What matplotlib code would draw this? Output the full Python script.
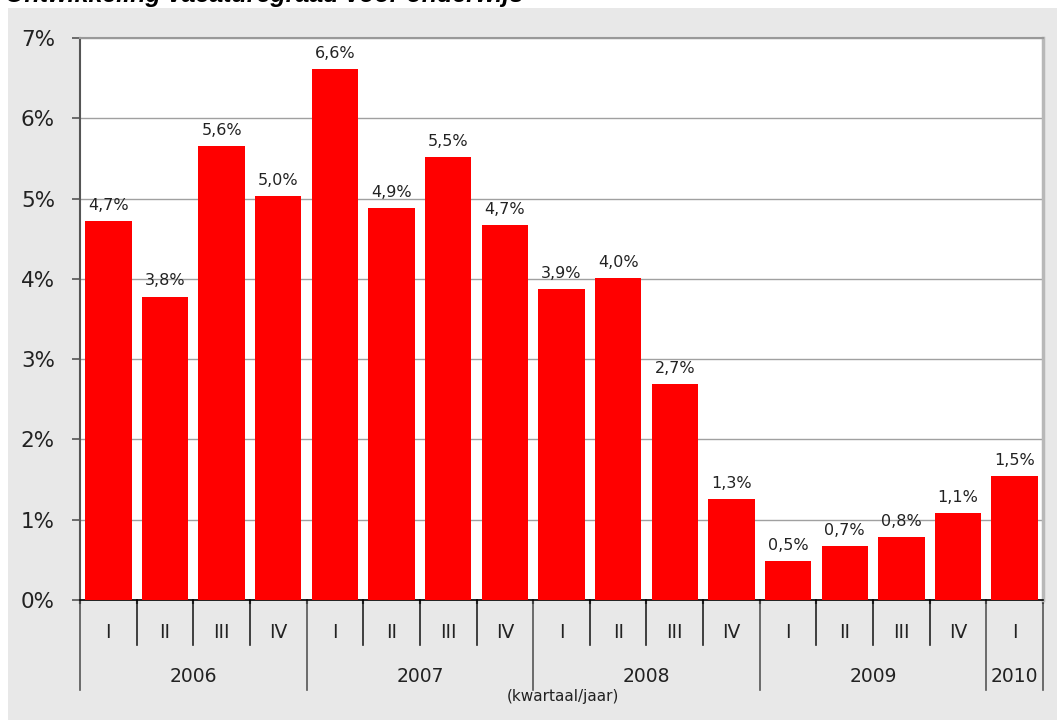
import matplotlib.pyplot as plt
from matplotlib.patches import Rectangle
import matplotlib.transforms as mtransforms

# data
quarters = ["I", "II", "III", "IV", "I", "II", "III", "IV", "I", "II", "III", "IV",
            "I", "II", "III", "IV", "I"]
years = ["2006", "2007", "2008", "2009", "2010"]
quarters_per_year = [4, 4, 4, 4, 1]
values = [4.72, 3.78, 5.65, 5.03, 6.61, 4.88, 5.52, 4.67, 3.87, 4.01, 2.69,
          1.26, 0.48, 0.67, 0.79, 1.08, 1.54]
labels = ["4,7%", "3,8%", "5,6%", "5,0%", "6,6%", "4,9%", "5,5%", "4,7%", "3,9%",
          "4,0%", "2,7%", "1,3%", "0,5%", "0,7%", "0,8%", "1,1%", "1,5%"]
yticks = [0, 1, 2, 3, 4, 5, 6, 7]

plt.rcParams["font.family"] = ["DejaVu Sans"]

W, H = 1057, 720
fig = plt.figure(figsize=(W / 100, H / 100), dpi=100, facecolor="white")
fig.patches.append(Rectangle((8 / W, 0), 1 - 8 / W, (H - 8) / H,
                             transform=fig.transFigure, facecolor="#e8e8e8",
                             edgecolor="none", zorder=-10))
# title sits partly above the top edge, as in the reference
fig.text(5 / W, 1 - 2 / H, "Ontwikkeling vacaturegraad voor onderwijs",
         fontsize=18, fontweight="bold", fontstyle="italic",
         family="Liberation Sans", va="baseline", ha="left", zorder=-5)

ax = fig.add_axes([80 / W, (H - 600) / H, (1043 - 80) / W, (600 - 38) / H])
ax.set_facecolor("white")

x = list(range(len(values)))
ax.bar(x, values, width=0.82, color="#ff0000", zorder=3)
for xi, v, lab in zip(x, values, labels):
    ax.text(xi, v + 0.1, lab, ha="center", va="bottom", fontsize=11.5,
            color="#222222")

ax.set_xlim(-0.5, len(values) - 0.5)
ax.set_ylim(0, 7)
ax.set_yticks(yticks)
ax.set_yticklabels([f"{t}%" for t in yticks], fontsize=15.5, color="#222222")
ax.tick_params(axis="y", length=6, width=1.2, color="#555555", pad=12)
ax.grid(axis="y", color="#a0a0a0", linewidth=1, zorder=0)

ax.set_xticks([i - 0.5 for i in range(len(values) + 1)])
ax.set_xticklabels([])
ax.tick_params(axis="x", length=3, width=1.5, color="black")

ax.spines["top"].set_color("#999999")
ax.spines["top"].set_linewidth(1.5)
ax.spines["right"].set_linewidth(2.5)
ax.spines["right"].set_color("#b8b8b8")
ax.spines["left"].set_color("#555555")
ax.spines["left"].set_linewidth(1.5)
ax.spines["bottom"].set_color("black")
ax.spines["bottom"].set_linewidth(1.2)

# category axis: quarter and year rows
trans = mtransforms.blended_transform_factory(ax.transData, ax.transAxes)
px = 1 / (600 - 38)
for xi, q in zip(x, quarters):
    ax.text(xi, -32 * px, q, transform=trans, ha="center", va="center",
            fontsize=13.5, color="#222222")

year_bounds = [0]
for n in quarters_per_year:
    year_bounds.append(year_bounds[-1] + n)
for b in range(len(values) + 1):
    long_line = b in year_bounds
    y_end = -90 * px if long_line else -45 * px
    color = "#555555" if long_line else "#222222"
    ax.plot([b - 0.5, b - 0.5], [0, y_end], transform=trans, color=color,
            linewidth=1.2, clip_on=False)
for yr, start, n in zip(years, year_bounds, quarters_per_year):
    ax.text(start + n / 2 - 0.5, -76 * px, yr, transform=trans, ha="center",
            va="center", fontsize=13.5, color="#222222")

fig.text(563 / W, 1 - 697 / H, "(kwartaal/jaar)", ha="center", va="center",
         fontsize=11, color="#222222")

fig.savefig("out.png", dpi=100, facecolor=fig.get_facecolor())
